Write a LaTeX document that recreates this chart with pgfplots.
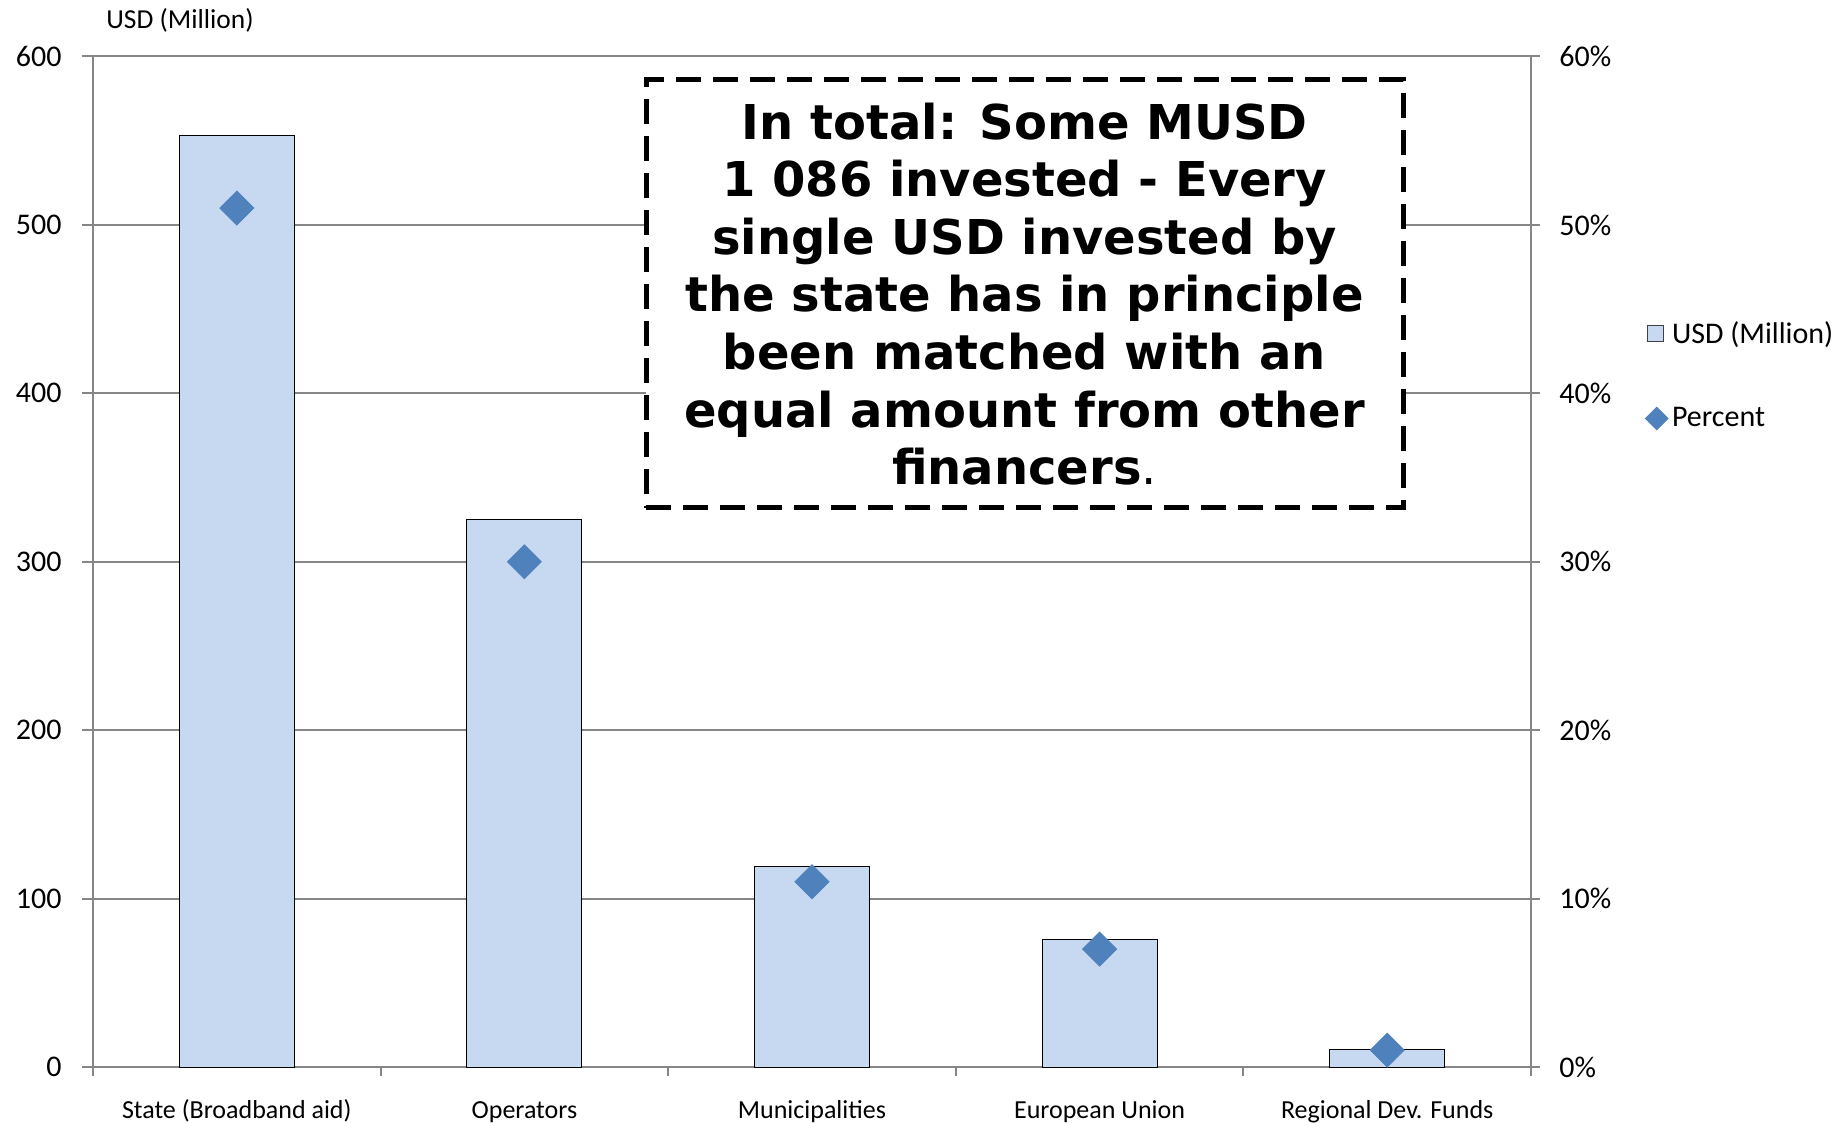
\documentclass[border=0pt]{standalone}
\usepackage{fontspec}
\setmainfont{Carlito}
\newfontfamily\boxfont{DejaVu Sans}
\usepackage{pgfplots}
\pgfplotsset{compat=1.18}
\definecolor{gridgray}{RGB}{134,134,134}
\definecolor{barblue}{RGB}{198,217,241}
\definecolor{markblue}{RGB}{79,129,189}
\begin{document}
\begin{tikzpicture}
\useasboundingbox (0,0) rectangle (922.5pt,561.5pt);
\begin{axis}[
  at={(46.5pt,28pt)}, anchor=south west,
  scale only axis, width=719pt, height=505.25pt,
  xmin=-0.5, xmax=4.5, ymin=0, ymax=600,
  ybar, bar width=0.4,
  axis x line*=bottom, axis y line*=left,
  axis line style={gridgray, line width=1pt, -},
  xtick={0,1,2,3,4},
  xticklabels={State (Broadband aid),Operators,Municipalities,European Union,Regional Dev. Funds},
  minor xtick={-0.5,0.5,1.5,2.5,3.5,4.5},
  major x tick style={draw=none},
  tick align=outside,
  major tick length=5.5pt,
  minor tick length=4.5pt,
  ytick={0,100,...,600},
  ymajorgrids, grid style={gridgray, line width=1pt},
  tick style={gridgray, line width=1pt},
  /pgf/number format/assume math mode=true,
  yticklabel style={font=\fontsize{15}{18}\selectfont, inner sep=0pt, anchor=east, xshift=-10pt},
  xticklabel style={font=\fontsize{13}{16}\selectfont, inner sep=0pt, anchor=base, yshift=-20pt},
  clip=false,
]
\addplot[fill=barblue, draw=black, line width=0.5pt] coordinates {(0,553) (1,325) (2,119) (3,75.5) (4,10.5)};
\end{axis}
\begin{axis}[
  at={(46.5pt,28pt)}, anchor=south west,
  scale only axis, width=719pt, height=505.25pt,
  xmin=-0.5, xmax=4.5, ymin=0, ymax=60,
  axis y line*=right, axis x line=none,
  axis line style={gridgray, line width=1pt, -},
  ytick={0,10,...,60},
  yticklabel={\pgfmathprintnumber{\tick}\%},
  tick align=outside,
  major tick length=4.5pt,
  tick style={gridgray, line width=1pt},
  /pgf/number format/assume math mode=true,
  yticklabel style={font=\fontsize{15}{18}\selectfont, inner sep=0pt, anchor=west, xshift=9.5pt},
  clip=false,
  legend style={at={(1.0793,0.6843)}, anchor=west, draw=none, fill=none,
    font=\fontsize{15}{18}\selectfont, row sep=26.5pt, inner sep=0pt},
  legend cell align=left,
]
\addlegendimage{legend image code/.code={\draw[fill=barblue, draw=black!75, line width=0.5pt] (0pt,-4pt) rectangle (8pt,4pt);}}
\addlegendentry{USD (Million)}
\addplot[only marks, mark=square*, mark size=6pt,
  mark options={rotate=45, fill=markblue, draw=markblue, rounded corners=3pt},
  legend image code/.code={\draw[mark=square*, mark size=4pt, mark options={rotate=45, fill=markblue, draw=markblue, rounded corners=1.5pt}] plot coordinates {(4.5pt,0pt)};}]
  coordinates {(0,51) (1,30) (2,11) (3,7) (4,1)};
\addlegendentry{Percent}
\end{axis}
\node[anchor=west, font=\fontsize{13.7}{16}\selectfont, inner sep=0pt] at (53pt,551.5pt) {USD (Million)};
\node[draw=black, dash pattern=on 12.5pt off 6pt, line width=2.5pt, fill=white,
  minimum width=378.5pt, minimum height=214pt, inner sep=0pt, align=center,
  font=\boxfont\bfseries\fontsize{24}{28.8}\selectfont] at (512.25pt,414.5pt)
  {In total: Some MUSD\\1 086 invested - Every\\single USD invested by\\the state has in principle\\been matched with an\\equal amount from other\\financers{\mdseries.}};
\end{tikzpicture}
\end{document}
